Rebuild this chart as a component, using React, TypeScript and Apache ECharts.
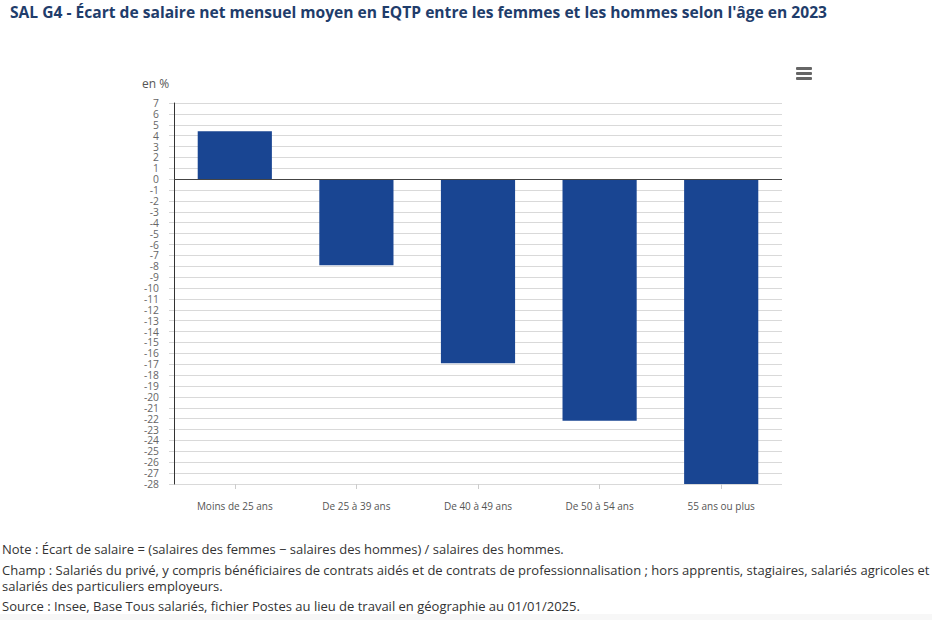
import React, { useEffect, useRef } from "react";
import * as echarts from "echarts";

const categories = ["Moins de 25 ans", "De 25 à 39 ans", "De 40 à 49 ans", "De 50 à 54 ans", "55 ans ou plus"];
const values = [4.4, -7.9, -16.9, -22.2, -28.0];
const titleText = "SAL G4 - Écart de salaire net mensuel moyen en EQTP entre les femmes et les hommes selon l'âge en 2023";
const unitText = "en %";
const noteLines = [
  "Note : Écart de salaire = (salaires des femmes − salaires des hommes) / salaires des hommes.",
  "Champ : Salariés du privé, y compris bénéficiaires de contrats aidés et de contrats de professionnalisation ; hors apprentis, stagiaires, salariés agricoles et",
  "salariés des particuliers employeurs.",
  "Source : Insee, Base Tous salariés, fichier Postes au lieu de travail en géographie au 01/01/2025.",
];

const FONT = "'Open Sans', 'Noto Sans', sans-serif";

export default function App() {
  const ref = useRef<HTMLDivElement>(null);
  useEffect(() => {
    if (!ref.current) return;
    const chart = echarts.init(ref.current, null, { renderer: "svg" });
    const noteY = [549, 570, 586, 606];
    chart.setOption({
      animation: false,
      backgroundColor: "#ffffff",
      textStyle: { fontFamily: FONT },
      grid: { left: 174, right: 150, top: 103, bottom: 136, containLabel: false },
      xAxis: {
        type: "category",
        data: categories,
        position: "bottom",
        axisLine: { show: false, onZero: false },
        axisTick: { show: true, alignWithLabel: true, length: 5, lineStyle: { color: "#cccccc" } },
        axisLabel: { color: "#555555", fontSize: 10, margin: 17, fontFamily: FONT },
        splitLine: { show: false },
      },
      yAxis: {
        type: "value",
        min: -28,
        max: 7,
        interval: 1,
        axisLine: { show: true, lineStyle: { color: "#333333", width: 1 } },
        axisTick: { show: true, length: 5, lineStyle: { color: "#d6d6d6" } },
        axisLabel: { color: "#666666", fontSize: 10.3, lineHeight: 10, margin: 15, fontFamily: FONT },
        splitLine: { show: true, lineStyle: { color: "#d9d9d9", width: 1 } },
      },
      series: [
        {
          type: "bar",
          data: values,
          barWidth: "61%",
          itemStyle: { color: "#194592" },
          markLine: {
            silent: true,
            symbol: "none",
            label: { show: false },
            lineStyle: { color: "#444444", width: 1, type: "solid" },
            data: [{ yAxis: 0 }],
          },
        },
      ],
      graphic: [
        {
          type: "text",
          left: 10,
          top: 4,
          style: { text: titleText, font: `bold 15.6px ${FONT}`, fill: "#1f3d6b" },
        },
        {
          type: "text",
          left: 142,
          top: 77,
          style: { text: unitText, font: `12px ${FONT}`, fill: "#555555" },
        },
        { type: "rect", shape: { x: 796, y: 67, width: 16, height: 3, r: 1 }, style: { fill: "#666666" } },
        { type: "rect", shape: { x: 796, y: 72, width: 16, height: 3, r: 1 }, style: { fill: "#666666" } },
        { type: "rect", shape: { x: 796, y: 77, width: 16, height: 3, r: 1 }, style: { fill: "#666666" } },
        { type: "rect", shape: { x: 0, y: 614, width: 932, height: 6 }, style: { fill: "#f7f7f7" } },
        ...noteLines.map((t, i) => ({
          type: "text",
          x: 2,
          y: noteY[i],
          style: { text: t, font: `13px ${FONT}`, fill: "#333333", textVerticalAlign: "middle" },
        })),
      ],
    });
    return () => chart.dispose();
  }, []);
  return (
    <div
      ref={ref}
      style={{ position: "fixed", left: 0, top: 0, width: 932, height: 620 }}
    />
  );
}
